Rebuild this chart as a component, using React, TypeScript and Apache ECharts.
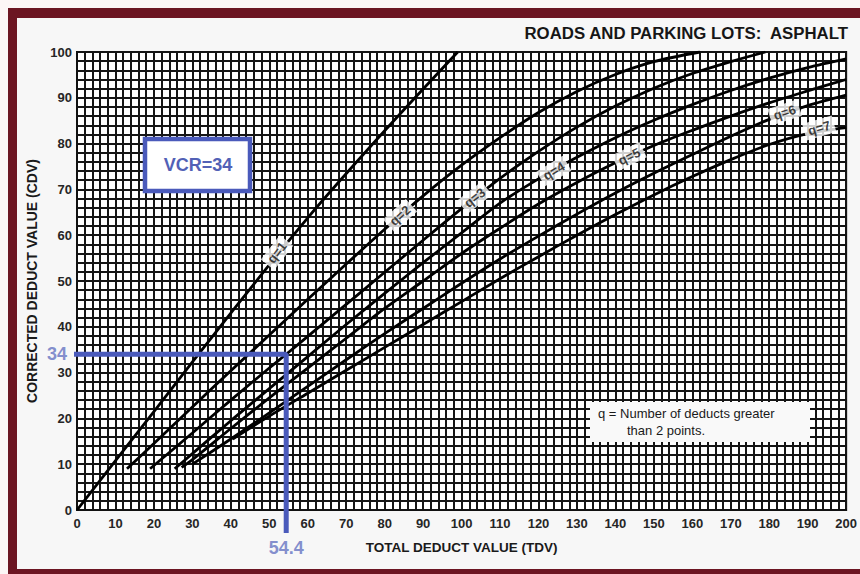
import React, { useEffect, useRef } from "react";
import * as echarts from "echarts";

// ---- data ----
const curveNames = ["q=1", "q=2", "q=3", "q=4", "q=5", "q=6", "q=7"];

const q1 = [[0, 0], [20, 21.5], [40, 43], [60, 63.8], [80, 82.8], [99, 100]];
const q2 = [[13, 9], [20, 14.5], [30, 22.5], [40, 30.4], [50, 38.2], [60, 46], [70, 53.7], [80, 61.3], [90, 68.6], [100, 75.3], [110, 81.3], [120, 86.8], [130, 91.4], [140, 95.1], [150, 97.9], [162, 100]];
const q3 = [[19, 9], [30, 16.8], [40, 24], [50, 31], [54.4, 34], [60, 37.9], [70, 44.9], [80, 51.9], [90, 58.9], [100, 65.8], [110, 72.4], [120, 78.3], [130, 83.6], [140, 88.2], [150, 92.1], [160, 95.3], [170, 97.9], [179, 100]];
const q4 = [[25.4, 9], [30, 12.3], [40, 19.5], [50, 26.5], [60, 33.5], [70, 40.5], [80, 47.3], [90, 54], [100, 60.5], [110, 67], [120, 72.3], [130, 77], [140, 81.3], [150, 85.1], [160, 88.5], [170, 91.6], [180, 94.3], [190, 96.6], [200, 98.5]];
const q5 = [[27.2, 9.3], [30, 11], [40, 17.8], [50, 24.5], [60, 31], [70, 37.5], [80, 44], [90, 50], [100, 56], [110, 61.5], [120, 66.8], [130, 71.5], [140, 75.8], [150, 79.6], [160, 82.9], [170, 86], [180, 88.9], [190, 91.5], [200, 94]];
const q6 = [[30, 10], [40, 15.5], [50, 21.2], [60, 27], [70, 32.8], [80, 38.5], [90, 44], [100, 49.5], [110, 54.8], [120, 59.8], [130, 64.6], [140, 69.2], [150, 73.5], [160, 77.6], [170, 81.6], [180, 85.3], [190, 88.3], [200, 90.6]];
const q7 = [[40.5, 15.5], [50, 20.5], [60, 25.5], [70, 30.5], [80, 35.5], [90, 40.5], [100, 45.5], [110, 50.5], [120, 55.3], [130, 60], [140, 64.5], [150, 68.8], [160, 72.8], [170, 76.5], [180, 79.8], [190, 82.2], [200, 83.5]];
const curves = [q1, q2, q3, q4, q5, q6, q7];

// label anchor on each curve [TDV, CDV] and its tilt (degrees)
const labelPos = [[52, 56.2], [84, 64.3], [103.4, 68.2], [124, 74], [143.6, 77.2], [184, 86.8], [193, 83.4]];
const labelTilt = [52, 42, 38, 31, 26, 18, 16];

// worked example
const exampleTDV = 54.4;
const exampleCDV = 34;
const examplePath = [[-2.6, exampleCDV], [exampleTDV, exampleCDV], [exampleTDV, -5]];

const titleText = "ROADS AND PARKING LOTS:  ASPHALT";
const xName = "TOTAL DEDUCT VALUE (TDV)";
const yName = "CORRECTED DEDUCT VALUE (CDV)";
const noteLines = ["q = Number of deducts greater", "than 2 points."];

const BLUE = "#4a5abb";
const LABEL_BLUE = "#6473c2";
const SANS = "'Liberation Sans', Arial, sans-serif";

export default function App() {
  const ref = useRef<HTMLDivElement>(null);

  useEffect(() => {
    if (!ref.current) return;
    const chart = echarts.init(ref.current, undefined, { renderer: "svg" });

    const gridLine = { show: true, lineStyle: { color: "#151515", width: 2 } };

    const curveSeries = curves.map((c, i) => ({
      type: "line",
      name: curveNames[i],
      data: c,
      smooth: 0.3,
      symbol: "none",
      lineStyle: { color: "#000000", width: 2.8 },
      z: 3,
      silent: true,
    }));

    const option: any = {
      animation: false,
      backgroundColor: "#fcf6f6",
      grid: {
        left: 77,
        top: 52,
        width: 773,
        height: 458,
        show: true,
        backgroundColor: "#ffffff",
        borderColor: "#111",
        borderWidth: 2,
      },
      xAxis: {
        type: "value",
        min: 0,
        max: 200,
        interval: 10,
        name: xName,
        nameLocation: "middle",
        nameGap: 30,
        nameTextStyle: { fontFamily: SANS, fontWeight: "bold", fontSize: 13.5, color: "#1a1a1a" },
        axisLine: { show: true, onZero: false, lineStyle: { color: "#111", width: 2 } },
        axisTick: { show: false },
        axisLabel: { margin: 7, fontFamily: SANS, fontWeight: "bold", fontSize: 13, color: "#262626" },
        splitLine: gridLine,
        minorTick: { show: false, splitNumber: 5 },
        minorSplitLine: gridLine,
      },
      yAxis: {
        type: "value",
        min: 0,
        max: 100,
        interval: 10,
        name: yName,
        nameLocation: "middle",
        nameGap: 30,
        nameRotate: 90,
        nameTextStyle: { fontFamily: SANS, fontWeight: "bold", fontSize: 14, color: "#1a1a1a" },
        axisLine: { show: true, onZero: false, lineStyle: { color: "#111", width: 2 } },
        axisTick: { show: false },
        axisLabel: { margin: 5, fontFamily: SANS, fontWeight: "bold", fontSize: 13, color: "#262626" },
        splitLine: gridLine,
        minorTick: { show: false, splitNumber: 5 },
        minorSplitLine: gridLine,
      },
      series: [
        ...curveSeries,
        {
          type: "scatter",
          data: labelPos.map((p, i) => ({
            value: p,
            label: { rotate: labelTilt[i], formatter: curveNames[i] },
          })),
          symbolSize: 0,
          silent: true,
          z: 5,
          label: {
            show: true,
            position: "inside",
            backgroundColor: "#ffffff",
            padding: [2, 4],
            fontFamily: SANS,
            fontSize: 13,
            fontWeight: "bold",
            color: "#111",
          },
        },
        {
          type: "line",
          data: examplePath,
          clip: false,
          symbol: "none",
          lineStyle: { color: BLUE, width: 5 },
          z: 10,
          silent: true,
        },
        {
          type: "scatter",
          clip: false,
          symbolSize: 0,
          silent: true,
          z: 11,
          data: [
            { value: [-2.6, exampleCDV], label: { position: "left", distance: 0, formatter: String(exampleCDV) } },
            { value: [exampleTDV, -5], label: { position: "bottom", distance: 6, formatter: String(exampleTDV) } },
          ],
          label: {
            show: true,
            fontFamily: SANS,
            fontSize: 18,
            fontWeight: "bold",
            color: LABEL_BLUE,
          },
        },
      ],
      graphic: [
        // photographed page frame
        { type: "rect", z: -5, shape: { x: 17, y: 17, width: 843, height: 553 }, style: { fill: "#f7f7f7" }, silent: true },
        { type: "rect", z: -4, shape: { x: 8, y: 8, width: 852, height: 10 }, style: { fill: "#6c1522" }, silent: true },
        { type: "rect", z: -4, shape: { x: 8, y: 8, width: 9, height: 566 }, style: { fill: "#6c1522" }, silent: true },
        { type: "rect", z: -4, shape: { x: 8, y: 569, width: 852, height: 5 }, style: { fill: "#6c1522" }, silent: true },
        {
          type: "text",
          z: 20,
          x: 848,
          y: 33,
          style: { text: titleText, fill: "#161616", font: `bold 16.8px ${SANS}`, align: "right", verticalAlign: "middle" },
          silent: true,
        },
        // VCR box
        {
          type: "rect",
          z: 50,
          shape: { x: 145, y: 139, width: 105, height: 52 },
          style: { fill: "#ffffff", stroke: BLUE, lineWidth: 4.5 },
          silent: true,
        },
        {
          type: "text",
          z: 51,
          x: 198,
          y: 165,
          style: { text: `VCR=${exampleCDV}`, fill: "#5261b6", font: `bold 18px ${SANS}`, align: "center", verticalAlign: "middle" },
          silent: true,
        },
        // note box
        {
          type: "rect",
          z: 50,
          shape: { x: 590, y: 402, width: 220, height: 40 },
          style: { fill: "#f9f9f9" },
          silent: true,
        },
        {
          type: "text",
          z: 51,
          x: 598,
          y: 413,
          style: { text: noteLines[0], fill: "#1a1a1a", font: `13px ${SANS}`, align: "left", verticalAlign: "middle" },
          silent: true,
        },
        {
          type: "text",
          z: 51,
          x: 627,
          y: 430,
          style: { text: noteLines[1], fill: "#1a1a1a", font: `13px ${SANS}`, align: "left", verticalAlign: "middle" },
          silent: true,
        },
      ],
    };

    chart.setOption(option);
    return () => chart.dispose();
  }, []);

  return (
    <div
      ref={ref}
      style={{ position: "absolute", left: 0, top: 0, width: 860, height: 574 }}
    />
  );
}
